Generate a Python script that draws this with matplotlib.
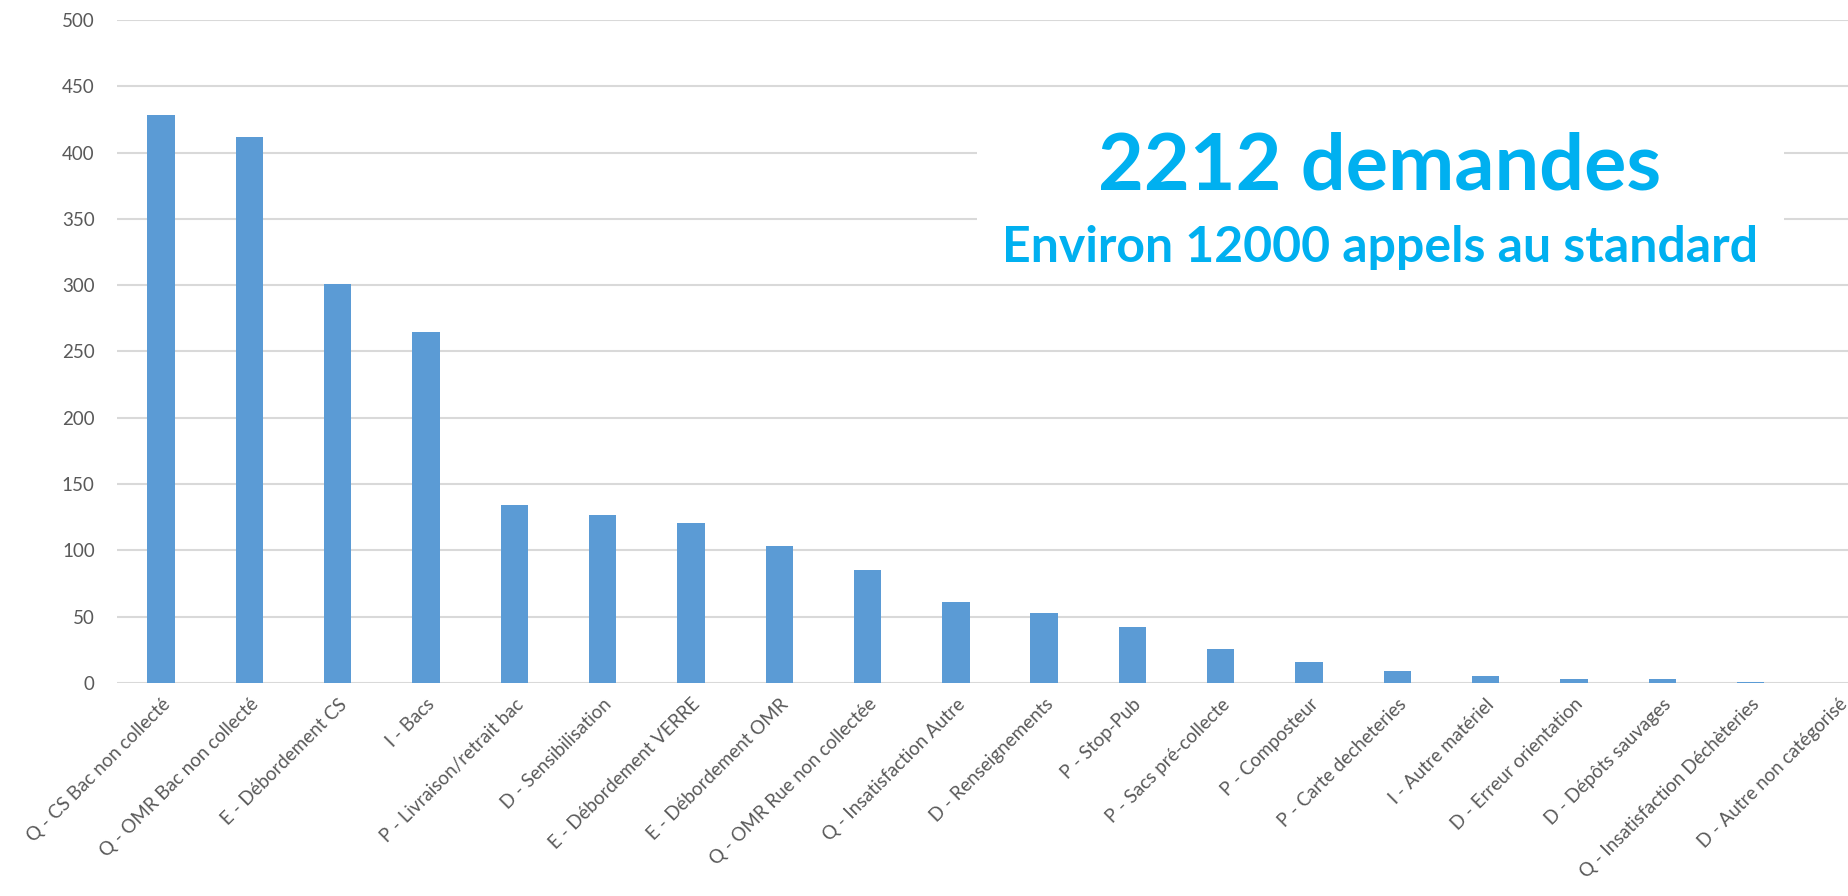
import matplotlib
matplotlib.use('Agg')
import matplotlib.pyplot as plt
from matplotlib.patches import Rectangle

categories = [
    'Q - CS Bac non collecté',
    'Q - OMR Bac non collecté',
    'E - Débordement CS',
    'I - Bacs',
    'P - Livraison/retrait bac',
    'D - Sensibilisation',
    'E - Débordement VERRE',
    'E - Débordement OMR',
    'Q - OMR Rue non collectée',
    'Q - Insatisfaction Autre',
    'D - Renseignements',
    'P - Stop-Pub',
    'P - Sacs pré-collecte',
    'P - Composteur',
    'P - Carte decheteries',
    'I - Autre matériel',
    'D - Erreur orientation',
    'D - Dépôts sauvages',
    'Q - Insatisfaction Déchèteries',
    'D - Autre non catégorisé',
]
counts = [428, 412, 301, 265, 134, 127, 121, 103, 85, 61,
          53, 42, 26, 16, 9, 5, 3, 3, 1, 0]
yticks = [0, 50, 100, 150, 200, 250, 300, 350, 400, 450, 500]

title_main = '2212 demandes'
title_sub = 'Environ 12000 appels au standard'

plt.rcParams['font.family'] = ['Lato', 'DejaVu Sans']

W, H = 1849, 896
fig = plt.figure(figsize=(W / 100, H / 100), dpi=100)
# axes frame in pixels: left 117, bottom (zero line) 683, top 20, 88.3 px per category
left, top, bottom = 117, 20, 683
width = 88.3 * len(categories)
ax = fig.add_axes([left / W, 1 - bottom / H, width / W, (bottom - top) / H])

x = list(range(len(categories)))
ax.bar(x, counts, width=0.31, color='#5B9BD5', zorder=3)

ax.set_xlim(-0.5, len(categories) - 0.5)
ax.set_ylim(0, 500)
ax.set_yticks(yticks)
ax.set_xticks(x)
ax.set_xticklabels(categories, rotation=45, ha='right', rotation_mode='anchor',
                   fontsize=13.5, color='#595959')
ax.tick_params(axis='y', length=0, pad=16, labelsize=13.5, labelcolor='#595959')
ax.tick_params(axis='x', length=0, pad=9)
ax.grid(axis='y', color='#D9D9D9', linewidth=1.5, zorder=0)
ax.set_axisbelow(True)
for s in ax.spines.values():
    s.set_visible(False)

# white panel hiding the gridlines behind the annotation
ax.add_patch(Rectangle((9.24, 302), 9.14, 135, facecolor='white',
                       edgecolor='none', zorder=2))

fig.text(1380 / W, 1 - 190 / H, title_main, ha='center', va='baseline',
         fontsize=57, fontweight='bold', color='#00B0F0')
fig.text(1380 / W, 1 - 262 / H, title_sub, ha='center', va='baseline',
         fontsize=36, fontweight='bold', color='#00B0F0')

fig.savefig('out.png', dpi=100)
